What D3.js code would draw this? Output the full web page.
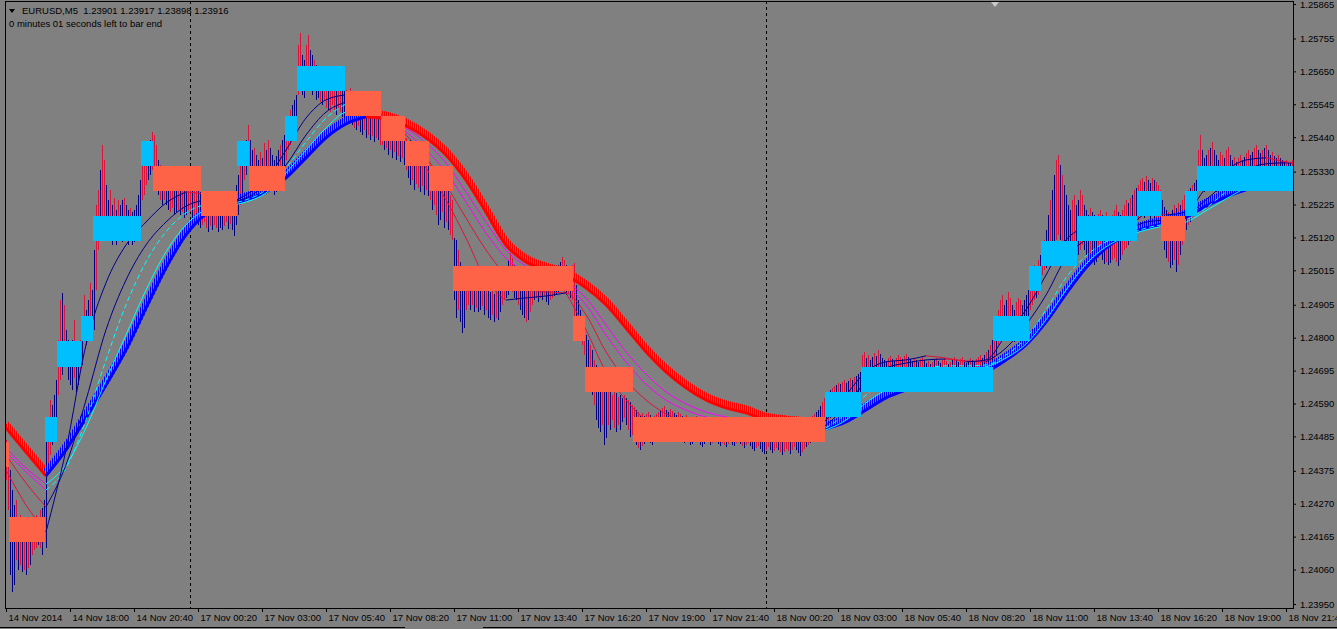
<!DOCTYPE html>
<html><head><meta charset="utf-8">
<script src="https://cdn.jsdelivr.net/npm/d3@7"></script>
<style>
html,body{margin:0;padding:0;background:#808080;overflow:hidden}
svg{display:block}
text{font-family:"Liberation Sans",Arial,sans-serif;font-size:9.5px;fill:#000}
</style></head><body>
<svg id="c" width="1337" height="629"></svg>
<script>
// ---------------- DATA ----------------
const symbolTitle = "EURUSD,M5";
const lastBarOHLC = ["1.23901", "1.23917", "1.23898", "1.23916"];
const timerText = "0 minutes 01 seconds left to bar end";

const timeTickBars = [0,32,64,96,128,160,192,224,256,288,320,352,384,416,448,480,512,544,576,608,640];
const timeTickLabels = ["14 Nov 2014","14 Nov 18:00","14 Nov 20:40","17 Nov 00:20","17 Nov 03:00","17 Nov 05:40","17 Nov 08:20","17 Nov 11:00","17 Nov 13:40","17 Nov 16:20","17 Nov 19:00","17 Nov 21:40","18 Nov 00:20","18 Nov 03:00","18 Nov 05:40","18 Nov 08:20","18 Nov 11:00","18 Nov 13:40","18 Nov 16:20","18 Nov 19:00","18 Nov 21:40"];
const priceTicks = [1.25865,1.25755,1.25650,1.25545,1.25440,1.25330,1.25225,1.25120,1.25015,1.24905,1.24800,1.24695,1.24590,1.24485,1.24375,1.24270,1.24165,1.24060,1.23950];
const daySeparatorBars = [92, 380];

const candleHigh = [1.24474,1.24410,
1.24378,1.24314,1.24266,1.24282,1.24219,1.24234,
1.24203,1.24187,1.24171,1.24193,1.24187,1.24212,
1.24219,1.24234,1.24225,1.24250,1.24257,1.24282,
1.24506,1.24522,1.24601,1.24585,1.24617,1.24665,
1.24793,1.24920,1.24943,1.24905,1.24825,1.24793,
1.24761,1.24793,1.24857,1.24777,1.24745,1.24793,
1.24841,1.24936,1.24889,1.24920,1.24975,1.24952,
1.25080,1.25224,1.25272,1.25335,1.25415,1.25367,
1.25287,1.25240,1.25272,1.25224,1.25246,1.25208,
1.25240,1.25224,1.25240,1.25246,1.25224,1.25208,
1.25214,1.25201,1.25208,1.25224,1.25256,1.25303,
1.25351,1.25383,1.25399,1.25415,1.25431,1.25457,
1.25447,1.25415,1.25367,1.25351,1.25335,1.25342,
1.25329,1.25319,1.25335,1.25310,1.25319,1.25303,
1.25310,1.25297,1.25319,1.25303,1.25287,1.25310,
1.25303,1.25287,1.25294,1.25278,1.25272,1.25265,
1.25256,1.25246,1.25252,1.25240,1.25246,1.25233,1.25240,1.25252,1.25246,1.25233,1.25240,1.25249,1.25256,1.25246,1.25259,1.25252,1.25265,1.25287,
1.25319,1.25374,1.25399,1.25415,1.25431,1.25479,
1.25431,1.25399,1.25406,1.25383,1.25367,1.25393,1.25374,1.25422,1.25399,1.25431,1.25406,1.25383,1.25367,1.25380,1.25399,1.25415,1.25431,1.25447,
1.25479,1.25501,1.25527,1.25543,1.25559,1.25575,
1.25734,1.25772,1.25702,1.25686,1.25734,1.25766,1.25718,1.25702,1.25686,1.25670,1.25654,1.25660,1.25648,1.25638,1.25654,1.25629,1.25642,1.25623,1.25635,1.25616,1.25629,1.25648,1.25623,1.25607,
1.25591,1.25585,1.25597,1.25575,1.25581,1.25565,1.25575,1.25559,1.25565,1.25552,1.25559,1.25546,1.25543,1.25533,1.25540,1.25527,1.25520,1.25527,
1.25511,1.25501,1.25508,1.25495,1.25489,1.25479,1.25495,1.25469,1.25476,1.25463,1.25469,1.25457,
1.25438,1.25425,1.25431,1.25415,1.25406,1.25399,1.25393,1.25383,1.25399,1.25374,1.25367,1.25361,
1.25351,1.25342,1.25335,1.25329,1.25319,1.25310,1.25316,1.25303,1.25287,1.25272,1.25256,1.25240,
1.25118,1.25112,1.25080,1.25042,1.25016,1.25023,1.25000,1.24984,1.24968,1.24978,1.24959,1.24968,1.24952,1.24962,1.24972,1.24959,1.24965,1.24952,1.24946,1.24959,1.24940,1.24952,1.24968,1.24959,1.24978,1.25000,1.25023,1.25048,1.25070,1.25054,1.25032,1.25016,1.25010,1.25000,1.24991,1.24978,1.24984,1.24968,1.24978,1.24991,1.24984,1.24997,1.24991,1.25003,1.24997,1.25010,1.25000,1.24991,1.24997,1.25010,1.25016,1.25023,1.25032,1.25042,1.25058,1.25048,1.25032,1.25023,1.25016,1.25032,
1.25039,1.24968,1.24920,1.24889,1.24863,1.24851,
1.24809,1.24793,1.24777,1.24761,1.24729,1.24713,1.24697,1.24681,1.24649,1.24633,1.24627,1.24640,1.24627,1.24617,1.24633,1.24624,1.24611,1.24617,1.24608,1.24617,1.24608,1.24601,1.24595,1.24585,
1.24579,1.24569,1.24563,1.24553,1.24560,1.24550,1.24557,1.24563,1.24553,1.24544,1.24550,1.24557,1.24563,1.24569,1.24576,1.24582,1.24569,1.24563,1.24573,1.24566,1.24560,1.24553,1.24563,1.24557,1.24550,1.24544,1.24553,1.24547,1.24541,1.24537,1.24544,1.24550,1.24541,1.24534,1.24528,1.24537,1.24544,1.24537,1.24531,1.24541,1.24547,1.24541,1.24534,1.24528,1.24537,1.24531,1.24525,1.24534,1.24541,1.24534,1.24528,1.24537,1.24544,1.24537,1.24531,1.24525,1.24534,1.24541,1.24531,1.24525,1.24518,1.24528,1.24534,1.24525,1.24518,1.24512,1.24521,1.24528,1.24518,1.24512,1.24521,1.24528,1.24521,1.24515,1.24509,1.24518,1.24525,1.24518,1.24512,1.24521,1.24528,1.24521,1.24515,1.24509,1.24518,1.24525,1.24531,1.24537,1.24544,1.24550,1.24557,1.24563,1.24569,1.24582,1.24595,1.24608,
1.24617,1.24627,1.24633,1.24640,1.24646,1.24649,1.24656,1.24652,1.24659,1.24665,1.24656,1.24662,1.24672,1.24665,1.24675,1.24678,1.24684,1.24691,
1.24745,1.24755,1.24735,1.24745,1.24729,1.24739,1.24751,1.24742,1.24761,1.24748,1.24735,1.24729,1.24723,1.24735,1.24742,1.24732,1.24726,1.24735,1.24745,1.24739,1.24732,1.24742,1.24748,1.24739,1.24732,1.24726,1.24735,1.24729,1.24723,1.24732,1.24739,1.24729,1.24719,1.24726,1.24716,1.24723,1.24729,1.24735,1.24726,1.24719,1.24729,1.24735,1.24726,1.24716,1.24723,1.24729,1.24739,1.24729,1.24723,1.24732,1.24739,1.24729,1.24719,1.24726,1.24735,1.24729,1.24723,1.24732,1.24739,1.24745,1.24735,1.24745,1.24755,1.24761,1.24777,1.24793,
1.24825,1.24857,1.24889,1.24920,1.24936,1.24905,1.24920,1.24946,1.24927,1.24905,1.24889,1.24914,1.24927,1.24920,1.24905,1.24920,1.24936,1.24952,
1.24984,1.25016,1.25032,1.25023,1.25048,1.25064,
1.25080,1.25112,1.25144,1.25192,1.25240,1.25272,1.25319,1.25367,1.25383,1.25351,1.25319,1.25287,1.25256,1.25224,1.25208,1.25240,1.25256,1.25224,
1.25240,1.25272,1.25256,1.25224,1.25208,1.25192,1.25214,1.25201,1.25192,1.25182,1.25195,1.25208,1.25192,1.25182,1.25201,1.25189,1.25176,1.25192,1.25208,1.25224,1.25201,1.25192,1.25208,1.25224,1.25240,1.25230,1.25246,1.25256,1.25272,1.25278,
1.25287,1.25303,1.25310,1.25297,1.25316,1.25303,1.25294,1.25310,1.25303,1.25297,1.25287,1.25272,
1.25240,1.25217,1.25208,1.25201,1.25192,1.25208,1.25224,1.25214,1.25230,1.25224,1.25240,1.25256,
1.25256,1.25272,1.25278,1.25287,1.25294,1.25303,
1.25399,1.25447,1.25399,1.25374,1.25383,1.25399,1.25406,1.25425,1.25399,1.25383,1.25367,1.25393,1.25383,1.25374,1.25399,1.25409,1.25383,1.25367,1.25377,1.25361,1.25374,1.25383,1.25367,1.25377,1.25390,1.25399,1.25383,1.25393,1.25406,1.25415,1.25399,1.25390,1.25399,1.25406,1.25415,1.25399,1.25383,1.25393,1.25380,1.25374,1.25383,1.25374,1.25367,1.25361,1.25367,1.25358,1.25361,1.25367];

const candleLow = [1.24346,1.24250,
1.24043,1.23989,1.24011,1.24091,1.24059,1.24075,
1.24053,1.24059,1.24043,1.24066,1.24075,1.24107,
1.24123,1.24130,1.24139,1.24130,1.24107,1.24155,
1.24130,1.24378,1.24426,1.24458,1.24474,1.24506,
1.24617,1.24665,1.24681,1.24777,1.24729,1.24665,
1.24649,1.24633,1.24671,1.24627,1.24649,1.24697,
1.24713,1.24793,1.24777,1.24799,1.24809,1.24841,
1.24825,1.24952,1.25080,1.25128,1.25176,1.25144,
1.25128,1.25112,1.25118,1.25096,1.25112,1.25096,
1.25112,1.25118,1.25106,1.25125,1.25112,1.25096,
1.25112,1.25096,1.25106,1.25118,1.25138,1.25160,
1.25240,1.25256,1.25287,1.25303,1.25319,1.25335,
1.25319,1.25287,1.25256,1.25240,1.25224,1.25240,
1.25224,1.25208,1.25201,1.25214,1.25192,1.25201,
1.25208,1.25192,1.25201,1.25182,1.25192,1.25208,
1.25201,1.25182,1.25169,1.25176,1.25160,1.25150,
1.25160,1.25169,1.25150,1.25138,1.25157,1.25144,1.25160,1.25150,1.25138,1.25150,1.25144,1.25157,1.25169,1.25147,1.25163,1.25144,1.25125,1.25160,
1.25192,1.25224,1.25256,1.25303,1.25319,1.25351,
1.25319,1.25287,1.25303,1.25272,1.25256,1.25272,1.25256,1.25287,1.25272,1.25303,1.25284,1.25272,1.25256,1.25265,1.25278,1.25303,1.25316,1.25335,
1.25367,1.25399,1.25415,1.25431,1.25447,1.25469,
1.25575,1.25591,1.25575,1.25565,1.25588,1.25607,1.25591,1.25575,1.25588,1.25559,1.25565,1.25552,1.25543,1.25559,1.25533,1.25527,1.25520,1.25543,1.25527,1.25511,1.25533,1.25520,1.25505,1.25501,
1.25501,1.25489,1.25495,1.25479,1.25469,1.25463,1.25476,1.25457,1.25447,1.25463,1.25438,1.25447,1.25431,1.25444,1.25425,1.25438,1.25431,1.25415,
1.25415,1.25399,1.25406,1.25383,1.25399,1.25374,1.25393,1.25367,1.25380,1.25361,1.25374,1.25351,
1.25335,1.25310,1.25287,1.25303,1.25272,1.25291,1.25278,1.25265,1.25284,1.25256,1.25272,1.25253,
1.25240,1.25208,1.25224,1.25192,1.25160,1.25176,1.25201,1.25150,1.25169,1.25144,1.25128,1.25112,
1.24920,1.24863,1.24889,1.24851,1.24815,1.24831,1.24889,1.24905,1.24889,1.24905,1.24883,1.24895,1.24883,1.24889,1.24901,1.24873,1.24889,1.24863,1.24857,1.24873,1.24851,1.24863,1.24857,1.24883,1.24905,1.24920,1.24927,1.24936,1.24952,1.24946,1.24927,1.24920,1.24905,1.24889,1.24873,1.24863,1.24851,1.24857,1.24883,1.24905,1.24920,1.24927,1.24914,1.24927,1.24920,1.24933,1.24914,1.24905,1.24920,1.24927,1.24933,1.24940,1.24946,1.24952,1.24959,1.24946,1.24936,1.24940,1.24927,1.24920,
1.24857,1.24841,1.24825,1.24793,1.24777,1.24745,
1.24697,1.24649,1.24665,1.24617,1.24585,1.24537,1.24512,1.24499,1.24521,1.24458,1.24480,1.24521,1.24506,1.24537,1.24512,1.24499,1.24521,1.24506,1.24531,1.24544,1.24521,1.24506,1.24483,1.24490,
1.24474,1.24458,1.24448,1.24442,1.24455,1.24461,1.24467,1.24474,1.24464,1.24458,1.24471,1.24480,1.24486,1.24490,1.24499,1.24506,1.24493,1.24480,1.24486,1.24483,1.24474,1.24467,1.24477,1.24483,1.24474,1.24464,1.24474,1.24467,1.24458,1.24461,1.24471,1.24477,1.24467,1.24458,1.24451,1.24461,1.24474,1.24467,1.24458,1.24464,1.24474,1.24471,1.24461,1.24455,1.24464,1.24458,1.24451,1.24461,1.24467,1.24458,1.24455,1.24464,1.24471,1.24461,1.24455,1.24448,1.24458,1.24464,1.24455,1.24445,1.24439,1.24448,1.24455,1.24445,1.24435,1.24429,1.24442,1.24451,1.24442,1.24432,1.24439,1.24448,1.24442,1.24435,1.24426,1.24435,1.24445,1.24439,1.24429,1.24442,1.24451,1.24442,1.24432,1.24423,1.24435,1.24445,1.24451,1.24458,1.24464,1.24474,1.24480,1.24486,1.24493,1.24499,1.24506,1.24512,
1.24521,1.24537,1.24544,1.24553,1.24563,1.24569,1.24576,1.24569,1.24585,1.24589,1.24582,1.24589,1.24601,1.24595,1.24608,1.24614,1.24617,1.24627,
1.24665,1.24672,1.24659,1.24668,1.24656,1.24665,1.24675,1.24662,1.24678,1.24668,1.24659,1.24652,1.24649,1.24662,1.24665,1.24656,1.24649,1.24659,1.24668,1.24662,1.24656,1.24665,1.24672,1.24659,1.24652,1.24646,1.24656,1.24649,1.24643,1.24652,1.24662,1.24652,1.24646,1.24649,1.24640,1.24646,1.24652,1.24659,1.24649,1.24643,1.24652,1.24656,1.24649,1.24640,1.24646,1.24652,1.24662,1.24656,1.24646,1.24656,1.24662,1.24652,1.24643,1.24649,1.24659,1.24652,1.24646,1.24656,1.24665,1.24672,1.24662,1.24668,1.24675,1.24681,1.24691,1.24697,
1.24729,1.24745,1.24777,1.24793,1.24809,1.24793,1.24799,1.24825,1.24809,1.24793,1.24787,1.24799,1.24818,1.24809,1.24799,1.24812,1.24825,1.24841,
1.24889,1.24905,1.24920,1.24927,1.24936,1.24952,
1.25000,1.25016,1.25023,1.25032,1.25042,1.25064,1.25080,1.25112,1.25128,1.25112,1.25096,1.25080,1.25064,1.25054,1.25042,1.25048,1.25054,1.25042,
1.25064,1.25080,1.25096,1.25080,1.25064,1.25054,1.25048,1.25042,1.25032,1.25042,1.25054,1.25064,1.25048,1.25035,1.25042,1.25032,1.25039,1.25048,1.25054,1.25042,1.25029,1.25048,1.25064,1.25080,1.25086,1.25096,1.25106,1.25112,1.25128,1.25144,
1.25176,1.25192,1.25201,1.25182,1.25208,1.25192,1.25176,1.25195,1.25182,1.25169,1.25160,1.25150,
1.25112,1.25080,1.25054,1.25042,1.25023,1.25032,1.25048,1.25010,1.25032,1.25064,1.25096,1.25118,
1.25144,1.25160,1.25169,1.25182,1.25192,1.25201,
1.25272,1.25287,1.25278,1.25265,1.25272,1.25284,1.25278,1.25287,1.25272,1.25265,1.25259,1.25272,1.25278,1.25265,1.25275,1.25284,1.25272,1.25262,1.25272,1.25259,1.25272,1.25278,1.25265,1.25275,1.25284,1.25287,1.25278,1.25284,1.25291,1.25297,1.25287,1.25278,1.25284,1.25291,1.25297,1.25284,1.25278,1.25287,1.25278,1.25272,1.25281,1.25275,1.25272,1.25278,1.25284,1.25287,1.25303,1.25329];

// moving averages sampled every 10 bars
const maBars = [0,10,20,30,40,50,60,70,80,90,100,110,120,130,140,150,160,170,180,190,200,210,220,230,240,250,260,270,280,290,300,310,320,330,340,350,360,370,380,390,400,410,420,430,440,450,460,470,480,490,500,510,520,530,540,550,560,570,580,590,600,610,620,630,640,643];
const maFast = [1.24378,1.24266,1.2418,1.24442,1.24777,1.24975,1.25096,1.25169,1.2523,1.25265,1.25256,1.25224,1.25256,1.25303,1.25399,1.25501,1.25559,1.25575,1.25543,1.25495,1.25431,1.25342,1.2524,1.25118,1.24984,1.2492,1.24927,1.24933,1.24943,1.24825,1.24691,1.24601,1.24537,1.24506,1.24496,1.2449,1.24486,1.24486,1.24486,1.24486,1.24493,1.24537,1.24617,1.24691,1.24723,1.24729,1.24742,1.24735,1.24723,1.24729,1.24809,1.24889,1.25,1.25112,1.2515,1.25157,1.2516,1.25201,1.25192,1.25201,1.25278,1.25335,1.25367,1.25374,1.25361,1.25358];
const maMedium = [1.24426,1.24336,1.2426,1.24394,1.24601,1.24825,1.24984,1.25096,1.25169,1.2522,1.2524,1.2523,1.25246,1.25287,1.25351,1.25447,1.2552,1.25552,1.25546,1.25501,1.25447,1.25374,1.25287,1.25182,1.2508,1.25,1.24959,1.24946,1.24943,1.24873,1.24755,1.24665,1.24601,1.24557,1.24531,1.24515,1.24506,1.24499,1.24496,1.24496,1.24499,1.24521,1.24585,1.24659,1.24703,1.24719,1.24729,1.24732,1.24726,1.24723,1.24767,1.24841,1.24936,1.25054,1.25112,1.25134,1.25144,1.25169,1.25176,1.25189,1.2524,1.25294,1.25335,1.25355,1.25358,1.25358];
const maSlow = [1.24435,1.24372,1.24314,1.24384,1.24537,1.24729,1.24905,1.25042,1.25138,1.25198,1.25224,1.25227,1.2524,1.25272,1.25342,1.25425,1.25501,1.25546,1.25533,1.25501,1.25457,1.25399,1.25329,1.25233,1.25134,1.25054,1.2501,1.24984,1.24965,1.24905,1.24809,1.24723,1.24652,1.24601,1.24569,1.24547,1.24534,1.24525,1.24518,1.24512,1.24512,1.24512,1.24557,1.24617,1.24665,1.24691,1.24703,1.2471,1.2471,1.24713,1.24745,1.24799,1.24889,1.24991,1.25061,1.25106,1.25128,1.2515,1.25163,1.25176,1.25214,1.25265,1.25303,1.25329,1.25342,1.25342];
const maLong = [1.24448,1.24384,1.24333,1.24394,1.24512,1.24665,1.24809,1.24952,1.25074,1.2516,1.25208,1.2522,1.25233,1.25262,1.25326,1.25399,1.25469,1.2552,1.25527,1.25501,1.25469,1.25422,1.25358,1.25265,1.25169,1.2508,1.25029,1.25,1.24978,1.24927,1.24841,1.24755,1.24684,1.24627,1.24589,1.24563,1.24547,1.24537,1.24531,1.24525,1.24518,1.24506,1.24537,1.24592,1.24633,1.24659,1.24678,1.24691,1.24697,1.24707,1.24735,1.2478,1.24857,1.24952,1.25035,1.2509,1.25122,1.25144,1.25157,1.25169,1.25205,1.25243,1.25278,1.25303,1.25323,1.25326];
const trendRibbon = [1.24512,1.24435,1.24359,1.24442,1.24544,1.24649,1.24761,1.24895,1.25023,1.25128,1.25195,1.2522,1.2524,1.25265,1.2531,1.25374,1.25438,1.25482,1.25505,1.25498,1.25476,1.25438,1.25383,1.25303,1.25201,1.25096,1.25042,1.25016,1.24997,1.24959,1.24905,1.24831,1.24755,1.24691,1.2464,1.24601,1.24576,1.2456,1.24537,1.24528,1.24521,1.24509,1.24531,1.24569,1.24608,1.24633,1.24652,1.24665,1.24675,1.24691,1.24729,1.24777,1.2485,1.2494,1.25023,1.25086,1.25128,1.2515,1.25166,1.25185,1.2522,1.25249,1.25272,1.25294,1.25313,1.25319];

// 30-minute boxes (bar index start/end, price low/high, direction)
const boxStart = [-4,2,20,26,38,44,68,74,98,116,122,140,146,170,188,200,212,224,284,290,314,410,428,494,512,518,536,566,578,590,596];
const boxEnd   = [2,20,26,38,44,68,74,98,116,122,140,146,170,188,200,212,224,284,290,314,410,428,494,512,518,536,566,578,590,596,644];
const boxLow   = [1.24388,1.24148,1.24468,1.24708,1.24788,1.25108,1.25348,1.25268,1.25188,1.25348,1.25268,1.25428,1.25588,1.25508,1.25428,1.25348,1.25268,1.24948,1.24788,1.24628,1.24468,1.24548,1.24628,1.24788,1.24948,1.25028,1.25108,1.25188,1.25108,1.25188,1.25268];
const boxHigh  = [1.24468,1.24228,1.24548,1.24788,1.24868,1.25188,1.25428,1.25348,1.25268,1.25428,1.25348,1.25508,1.25668,1.25588,1.25508,1.25428,1.25348,1.25028,1.24868,1.24708,1.24548,1.24628,1.24708,1.24868,1.25028,1.25108,1.25188,1.25268,1.25188,1.25268,1.25348];
const boxDir   = ["down","down","up","up","up","up","up","down","down","up","down","up","up","down","down","down","down","down","down","down","down","up","up","up","up","up","up","up","down","up","up"];

// ---------------- DRAWING ----------------
const svg = d3.select("#c");
const PL = 5, PR = 1293, PT = 1, PB = 608;
const x = d3.scaleLinear().domain([0, 643]).range([6, 1292]);
const y = d3.scaleLinear().domain([1.23950, 1.25865]).range([604, 4]);

svg.append("rect").attr("width",1337).attr("height",629).attr("fill","#808080");

const defs = svg.append("defs");
defs.append("clipPath").attr("id","plotClip").append("rect")
  .attr("x",PL+1).attr("y",PT+1).attr("width",PR-PL-1).attr("height",PB-PT-1);
function hatch(id,color){
  const p = defs.append("pattern").attr("id",id).attr("patternUnits","userSpaceOnUse")
    .attr("x",0).attr("y",0).attr("width",2).attr("height",4);
  p.append("rect").attr("x",0).attr("y",0).attr("width",1).attr("height",4).attr("fill",color);
}
hatch("hatchUp","#0000FF");
hatch("hatchDown","#FF0000");

const g = svg.append("g").attr("clip-path","url(#plotClip)");

// day separators
g.selectAll("line.sep").data(daySeparatorBars).join("line")
  .attr("x1",d=>x(d)+0.5).attr("x2",d=>x(d)+0.5).attr("y1",PT).attr("y2",PB)
  .attr("stroke","#000").attr("stroke-width",1).attr("stroke-dasharray","3,3");

// candles (colour: bar midpoint above/below the mean of its neighbours)
const n = Math.min(candleHigh.length, candleLow.length);
const candles = d3.range(n).map(i=>({i, h:candleHigh[i], l:candleLow[i]}));
const mids = candles.map(d=>(d.h+d.l)/2);
let prevRed = false;
candles.forEach((d,i)=>{
  const a = i>0 ? mids[i-1] : mids[i], b = i<n-1 ? mids[i+1] : mids[i];
  const avg = (a+b)/2;
  d.red = Math.abs(mids[i]-avg) < 1e-6 ? !prevRed : mids[i] > avg;
  prevRed = d.red;
});
g.selectAll("rect.candle").data(candles).join("rect")
  .attr("x",d=>x(d.i)).attr("width",1)
  .attr("y",d=>Math.round(y(d.h)))
  .attr("height",d=>Math.max(1, Math.round(y(d.l))-Math.round(y(d.h))))
  .attr("fill",d=> d.red ? "#DC143C" : "#000080");

// split a series into rising / falling runs
function runs(vals){
  const out = []; let cur = null;
  for (let j=0;j<vals.length-1;j++){
    let up = vals[j+1] > vals[j];
    if (vals[j+1] === vals[j] && cur) up = cur.up;
    if (!cur || cur.up !== up){ cur = {up, pts:[[maBars[j], vals[j]]]}; out.push(cur); }
    cur.pts.push([maBars[j+1], vals[j+1]]);
  }
  return out;
}
const line = d3.line().x(d=>x(d[0])).y(d=>y(d[1])).curve(d3.curveMonotoneX);

// trend ribbon (hatched band + solid edge)
const rib = g.append("g");
runs(trendRibbon).forEach(r=>{
  rib.append("path").attr("d",line(r.pts)).attr("fill","none")
    .attr("transform","translate(0,-4)")
    .attr("stroke", r.up ? "url(#hatchUp)" : "url(#hatchDown)").attr("stroke-width",7);
  rib.append("path").attr("d",line(r.pts)).attr("fill","none")
    .attr("stroke", r.up ? "#0000FF" : "#FF0000").attr("stroke-width",3);
});

// thin moving averages
const maDefs = [
  {vals: maLong,   up:"#00FFFF", down:"#FF00FF", dash:null},
  {vals: maSlow,   up:"#00FFFF", down:"#FF00FF", dash:"5,3"},
  {vals: maMedium, up:"#00008B", down:"#DC143C", dash:null},
  {vals: maFast,   up:"#00008B", down:"#DC143C", dash:null}
];
const mg = g.append("g");
maDefs.forEach(m=>{
  runs(m.vals).forEach(r=>{
    mg.append("path").attr("d",line(r.pts)).attr("fill","none")
      .attr("stroke", r.up ? m.up : m.down).attr("stroke-width",1)
      .attr("stroke-dasharray", (r.up && m.dash) ? m.dash : null);
  });
});

// boxes
const boxes = boxStart.map((s,k)=>({s, e:boxEnd[k], lo:boxLow[k], hi:boxHigh[k], dir:boxDir[k]}));
g.selectAll("rect.box").data(boxes).join("rect")
  .attr("x",d=>x(d.s)-1).attr("width",d=>x(d.e)-x(d.s))
  .attr("y",d=>Math.round(y(d.hi))).attr("height",d=>Math.round(y(d.lo))-Math.round(y(d.hi)))
  .attr("fill",d=>d.dir==="up" ? "#00BFFF" : "#FF6347");

// frame
svg.append("rect").attr("x",PL+0.5).attr("y",PT+0.5).attr("width",PR-PL).attr("height",PB-PT)
  .attr("fill","none").attr("stroke","#000").attr("stroke-width",1);

// right price axis
const yAxis = d3.axisRight(y).tickValues(priceTicks).tickFormat(d3.format(".5f")).tickSize(3).tickPadding(4);
const ya = svg.append("g").attr("transform",`translate(${PR},0)`).call(yAxis);
ya.select(".domain").remove();
ya.selectAll("text").attr("font-family","Liberation Sans, Arial, sans-serif").attr("font-size","9.5px").attr("fill","#000");
ya.selectAll("line").attr("stroke","#000");

// bottom time axis
const xAxis = d3.axisBottom(x).tickValues(timeTickBars).tickFormat((d,i)=>timeTickLabels[i]).tickSize(4).tickPadding(2);
const xa = svg.append("g").attr("transform",`translate(0,${PB})`).call(xAxis);
xa.select(".domain").remove();
xa.selectAll("text").attr("text-anchor","start").attr("x",2)
  .attr("font-family","Liberation Sans, Arial, sans-serif").attr("font-size","9.5px").attr("fill","#000");
xa.selectAll("line").attr("stroke","#000");

// header
svg.append("path").attr("d","M9,9 L15,9 L12,13 Z").attr("fill","#000");
svg.append("text").attr("x",22).attr("y",14).text(symbolTitle + "\u00A0\u00A0" + lastBarOHLC.join(" "));
svg.append("text").attr("x",9).attr("y",27).text(timerText);

// chart shift marker
svg.append("path").attr("d","M991,2 L999,2 L995,7 Z").attr("fill","#C8C8C8");

// bottom window edge
svg.append("line").attr("x1",0).attr("x2",405).attr("y1",627.5).attr("y2",627.5).attr("stroke","#000");
svg.append("line").attr("x1",483).attr("x2",1337).attr("y1",627.5).attr("y2",627.5).attr("stroke","#000");
</script>
</body></html>
